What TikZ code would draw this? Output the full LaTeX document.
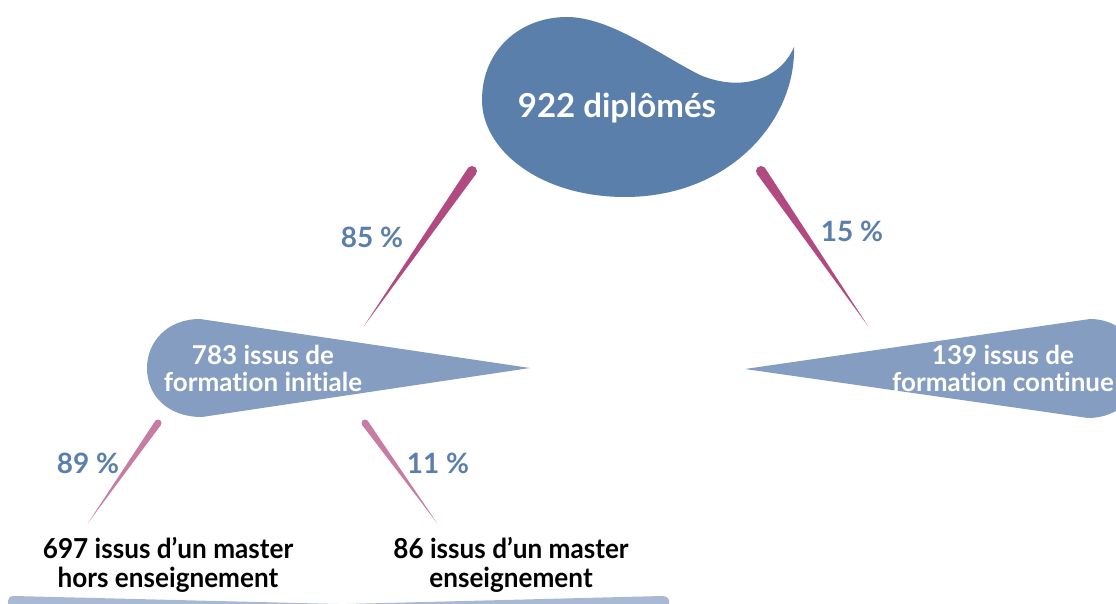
\documentclass[tikz,border=0pt]{standalone}
\usepackage{fontspec}
\setmainfont{Lato}[Ligatures=NoCommon]
\newfontfamily\condfont{Lato}[FakeStretch=0.95,Ligatures=NoCommon]
\usetikzlibrary{calc}
\definecolor{topblue}{HTML}{5B7FAB}
\definecolor{midblue}{HTML}{849DC0}
\definecolor{barblue}{HTML}{A8B9D4}
\definecolor{magenta}{HTML}{B04A80}
\definecolor{lpink}{HTML}{C67CA3}
\definecolor{pctblue}{HTML}{5B7FAB}
\tikzset{
  pct/.style={font=\fontsize{28}{30}\selectfont\bfseries, text=pctblue, inner sep=0pt},
  droptext/.style={font=\fontsize{26}{27}\selectfont\bfseries, text=white, align=center, inner sep=0pt},
  bigtext/.style={font=\fontsize{33}{35}\selectfont\bfseries, text=white, inner sep=0pt},
  leaftext/.style={font=\condfont\fontsize{27.5}{29}\selectfont\bfseries, text=black, align=center, inner sep=0pt},
}
\newcommand{\taper}[4]{% color, A (thick), B (thin), radius
  \fill[#1] (#2) circle (#4);
  \fill[#1] (#3) -- ($(#2)!#4!90:(#3)$) -- ($(#2)!#4!-90:(#3)$) -- cycle;
}
\begin{document}
\begin{tikzpicture}[x=1pt,y=-1pt]
\useasboundingbox (0,0) rectangle (1116,604);
\clip (0,0) rectangle (1116,604);
% top drop
\fill[topblue] (794,47) .. controls (796,120) and (730,197) .. (625,197)
  .. controls (540,197) and (482,150) .. (482,100)
  .. controls (482,50) and (520,17) .. (567,17)
  .. controls (610,17) and (660,55) .. (700,75)
  .. controls (740,92) and (780,80) .. (794,47) -- cycle;
\node[bigtext] (root) at (617,108) {922 diplômés};
% left drop
\fill[midblue] (530,368) -- (200,319)
  .. controls (167,319) and (147,342) .. (147,368)
  .. controls (147,395) and (167,417) .. (202,417) -- cycle;
\node[droptext] (fi) at (263,368) {783 issus de\\formation initiale};
% right drop
\fill[midblue] (745,369) -- (1090,319)
  .. controls (1120,319) and (1140,342) .. (1140,368)
  .. controls (1140,395) and (1120,418) .. (1088,418) -- cycle;
\node[droptext] (fc) at (1003,368) {139 issus de\\formation continue};
% connectors
\coordinate (a1) at (472,171); \coordinate (b1) at (364,326);
\coordinate (a2) at (761,171); \coordinate (b2) at (868,326);
\coordinate (a3) at (158,423); \coordinate (b3) at (88,523);
\coordinate (a4) at (365,423); \coordinate (b4) at (437,523);
\taper{magenta}{a1}{b1}{5pt}
\taper{magenta}{a2}{b2}{5pt}
\taper{lpink}{a3}{b3}{3.5pt}
\taper{lpink}{a4}{b4}{3.5pt}
\node[pct] (p85) at (372,237) {85 \%};
\node[pct] (p15) at (852,231) {15 \%};
\node[pct] (p89) at (88,463) {89 \%};
\node[pct] (p11) at (438,463) {11 \%};
% leaves
\node[leaftext] (l1) at (168,565) {697 issus d’un master\\hors enseignement};
\node[leaftext] (l2) at (511,565) {86 issus d’un master\\enseignement};
% bottom bars
\fill[barblue] (8,605) -- (8,601) .. controls (8,598) and (10,596) .. (14,596)
  -- (338,604) -- (338,605) -- cycle;
\fill[barblue] (346,605) -- (346,604) -- (662,596)
  .. controls (666,596) and (669,598) .. (669,601) -- (669,605) -- cycle;
\end{tikzpicture}
\end{document}
